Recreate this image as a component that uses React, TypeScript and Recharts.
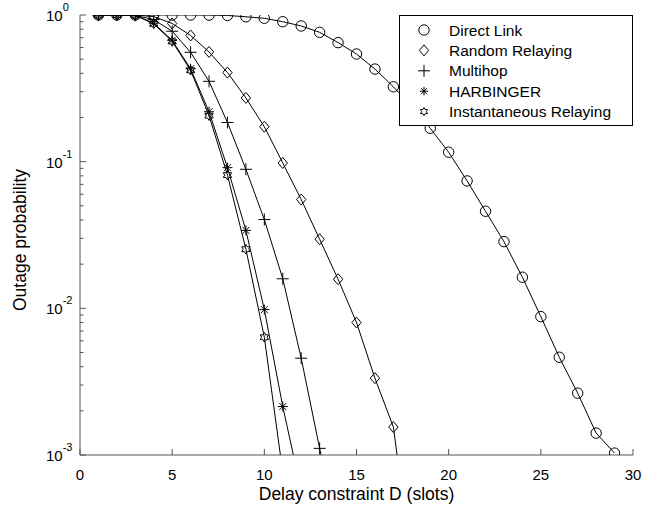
import React from 'react';
import { LineChart, Line, XAxis, YAxis, Legend, Label } from 'recharts';

// delay constraint D (slots)
const delays = [1, 2, 3, 4, 5, 6, 7, 8, 9, 10, 11, 12, 13, 14, 15, 16, 17, 18, 19, 20, 21, 22, 23, 24, 25, 26, 27, 28, 29];

// outage probability per scheme
const directLink = [1, 1, 1, 1, 1, 1, 0.998, 0.993, 0.972, 0.95, 0.9, 0.842, 0.762, 0.648, 0.542, 0.428, 0.324, 0.238, 0.169, 0.116, 0.0739, 0.0459, 0.0285, 0.0163, 0.00878, 0.00464, 0.00264, 0.00141, 0.00103];
const randomRelaying = [1, 1, 1, 0.975, 0.875, 0.725, 0.56, 0.405, 0.272, 0.173, 0.098, 0.0552, 0.0296, 0.0158, 0.008, 0.00334, 0.00155, 0.00018];
const multihop = [1, 1, 0.995, 0.93, 0.775, 0.557, 0.353, 0.185, 0.0887, 0.0403, 0.0159, 0.00457, 0.00111, 0.00028];
const harbinger = [1, 1, 0.995, 0.88, 0.672, 0.43, 0.219, 0.091, 0.034, 0.0098, 0.00214, 0.00057];
const instantaneous = [1, 1, 0.995, 0.87, 0.66, 0.42, 0.206, 0.081, 0.0253, 0.00635, 0.00076];

const xTicks = [0, 5, 10, 15, 20, 25, 30];
const decades = [-3, -2, -1, 0];

type Kind = 'circle' | 'diamond' | 'plus' | 'star' | 'hexagram';

const seriesList: { key: string; name: string; values: number[]; marker: Kind }[] = [
    { key: 'direct', name: 'Direct Link', values: directLink, marker: 'circle' },
    { key: 'random', name: 'Random Relaying', values: randomRelaying, marker: 'diamond' },
    { key: 'multihop', name: 'Multihop', values: multihop, marker: 'plus' },
    { key: 'harbinger', name: 'HARBINGER', values: harbinger, marker: 'star' },
    { key: 'instant', name: 'Instantaneous Relaying', values: instantaneous, marker: 'hexagram' },
];

const data = delays.map((d, i) => {
    const row: Record<string, number> = { delay: d };
    seriesList.forEach((s) => {
        if (i < s.values.length) row[s.key] = s.values[i];
    });
    return row;
});

// log axis ticks: 1..9 x 10^k, last one at 10^0
const yTicks: number[] = [];
decades.forEach((e) => {
    if (e === 0) {
        yTicks.push(1);
        return;
    }
    for (let m = 1; m <= 9; m++) yTicks.push(m * Math.pow(10, e));
});

const AXIS = '#555';
const FONT = '"Liberation Sans", Arial, sans-serif';

function Marker({ kind, cx, cy, s = 1 }: { kind: Kind; cx: number; cy: number; s?: number }) {
    const st = { fill: 'none', stroke: '#000', strokeWidth: 1 };
    if (kind === 'circle') return <circle cx={cx} cy={cy} r={5.2 * s} {...st} />;
    if (kind === 'diamond') {
        const r = 5.5 * s;
        return <polygon points={`${cx},${cy - r} ${cx + r * 0.85},${cy} ${cx},${cy + r} ${cx - r * 0.85},${cy}`} {...st} />;
    }
    if (kind === 'plus') {
        const r = 6 * s;
        return <path d={`M${cx - r},${cy}H${cx + r}M${cx},${cy - r}V${cy + r}`} {...st} />;
    }
    if (kind === 'star') {
        const r = 5 * s;
        const d = r * 0.7;
        return (
            <path
                d={`M${cx - r},${cy}H${cx + r}M${cx},${cy - r}V${cy + r}M${cx - d},${cy - d}L${cx + d},${cy + d}M${cx - d},${cy + d}L${cx + d},${cy - d}`}
                {...st}
            />
        );
    }
    // hexagram outline
    const R = 4.8 * s;
    const r = R / Math.sqrt(3);
    const pts: string[] = [];
    for (let k = 0; k < 12; k++) {
        const a = (Math.PI / 6) * k - Math.PI / 2;
        const rr = k % 2 === 0 ? R : r;
        pts.push(`${cx + rr * Math.cos(a)},${cy + rr * Math.sin(a)}`);
    }
    return <polygon points={pts.join(' ')} {...st} />;
}

const isMajor = (v: number) => Math.abs(Math.log10(v) - Math.round(Math.log10(v))) < 1e-6;

const LeftTick = (props: any) => {
    const { x, y, payload } = props;
    const v = payload.value;
    const major = isMajor(v);
    return (
        <g>
            <line x1={x} x2={x + (major ? 6 : 3.5)} y1={y} y2={y} stroke={AXIS} />
            {major && (
                <text x={46} y={y + 6} fontSize={15} fontFamily={FONT} fill="#000">
                    <tspan>10</tspan>
                    <tspan dy={-10} fontSize={11}>{Math.round(Math.log10(v))}</tspan>
                </text>
            )}
        </g>
    );
};

const RightTick = (props: any) => {
    const { x, y, payload } = props;
    const major = isMajor(payload.value);
    return <line x1={x} x2={x - (major ? 6 : 4)} y1={y} y2={y} stroke={AXIS} />;
};

const BottomTick = (props: any) => {
    const { x, y, payload } = props;
    return (
        <g>
            <line x1={x} x2={x} y1={y} y2={y - 6} stroke={AXIS} />
            <text x={x} y={y + 25} textAnchor="middle" fontSize={15} fontFamily={FONT} fill="#000">
                {payload.value}
            </text>
        </g>
    );
};

const TopTick = (props: any) => {
    const { x, y } = props;
    return <line x1={x} x2={x} y1={y} y2={y + 6} stroke={AXIS} />;
};

const renderLegend = () => (
    <svg width={234} height={111} style={{ display: 'block' }}>
        <rect x={0.5} y={0.5} width={233} height={110} fill="#fff" stroke="#000" />
        {seriesList.map((s, i) => {
            const cy = 15 + i * 20.4;
            return (
                <g key={s.key}>
                    <Marker kind={s.marker} cx={25} cy={cy} s={s.marker === 'hexagram' || s.marker === 'star' ? 0.85 : 1} />
                    <text x={50} y={cy + 5.5} fontSize={15.5} fontFamily={FONT} fill="#000">
                        {s.name}
                    </text>
                </g>
            );
        })}
    </svg>
);

export default function App() {
    return (
        <div style={{ position: 'absolute', left: 0, top: 0, width: 663, height: 512, background: '#fff' }}>
            <LineChart width={663} height={512} data={data} margin={{ top: 15, right: 30, bottom: 0, left: 0 }}>
                <XAxis
                    dataKey="delay"
                    type="number"
                    domain={[0, 30]}
                    ticks={xTicks}
                    interval={0}
                    height={57}
                    tickSize={0}
                    tickMargin={0}
                    tickLine={false}
                    axisLine={{ stroke: AXIS }}
                    tick={BottomTick}
                    allowDataOverflow
                >
                    <Label
                        content={({ viewBox }: any) => (
                            <text
                                x={viewBox.x + viewBox.width / 2}
                                y={viewBox.y + 45}
                                textAnchor="middle"
                                fontSize={17.5}
                                fontFamily={FONT}
                                fill="#000"
                            >
                                Delay constraint D (slots)
                            </text>
                        )}
                    />
                </XAxis>
                <XAxis
                    xAxisId="top"
                    orientation="top"
                    dataKey="delay"
                    type="number"
                    domain={[0, 30]}
                    ticks={xTicks}
                    interval={0}
                    height={0}
                    tickSize={0}
                    tickMargin={0}
                    tickLine={false}
                    axisLine={{ stroke: AXIS }}
                    tick={TopTick}
                    allowDataOverflow
                />
                <YAxis
                    scale="log"
                    domain={[0.001, 1]}
                    ticks={yTicks}
                    interval={0}
                    width={80}
                    tickSize={0}
                    tickMargin={0}
                    tickLine={false}
                    axisLine={{ stroke: AXIS }}
                    tick={LeftTick}
                    allowDataOverflow
                >
                    <Label
                        content={({ viewBox }: any) => {
                            const cx = viewBox.x + 20;
                            const cy = viewBox.y + viewBox.height / 2 + 5;
                            return (
                                <text
                                    x={cx}
                                    y={cy}
                                    transform={`rotate(-90 ${cx} ${cy})`}
                                    textAnchor="middle"
                                    dominantBaseline="central"
                                    fontSize={17.5}
                                    fontFamily={FONT}
                                    fill="#000"
                                >
                                    Outage probability
                                </text>
                            );
                        }}
                    />
                </YAxis>
                <YAxis
                    yAxisId="right"
                    orientation="right"
                    scale="log"
                    domain={[0.001, 1]}
                    ticks={yTicks}
                    interval={0}
                    width={0}
                    tickSize={0}
                    tickMargin={0}
                    tickLine={false}
                    axisLine={{ stroke: AXIS }}
                    tick={RightTick}
                    allowDataOverflow
                />
                {seriesList.map((s) => (
                    <Line
                        key={s.key}
                        dataKey={s.key}
                        name={s.name}
                        type="linear"
                        stroke="#000"
                        strokeWidth={1}
                        isAnimationActive={false}
                        activeDot={false}
                        dot={(p: any) =>
                            p.cx == null || p.cy == null ? (
                                <g key={`${s.key}-${p.index}`} />
                            ) : (
                                <g key={`${s.key}-${p.index}`}>
                                    <Marker kind={s.marker} cx={p.cx} cy={p.cy} />
                                </g>
                            )
                        }
                    />
                ))}
                <Legend
                    layout="vertical"
                    align="center"
                    verticalAlign="middle"
                    wrapperStyle={{ left: 399, top: 15, width: 234, height: 111 }}
                    content={renderLegend}
                />
            </LineChart>
        </div>
    );
}
